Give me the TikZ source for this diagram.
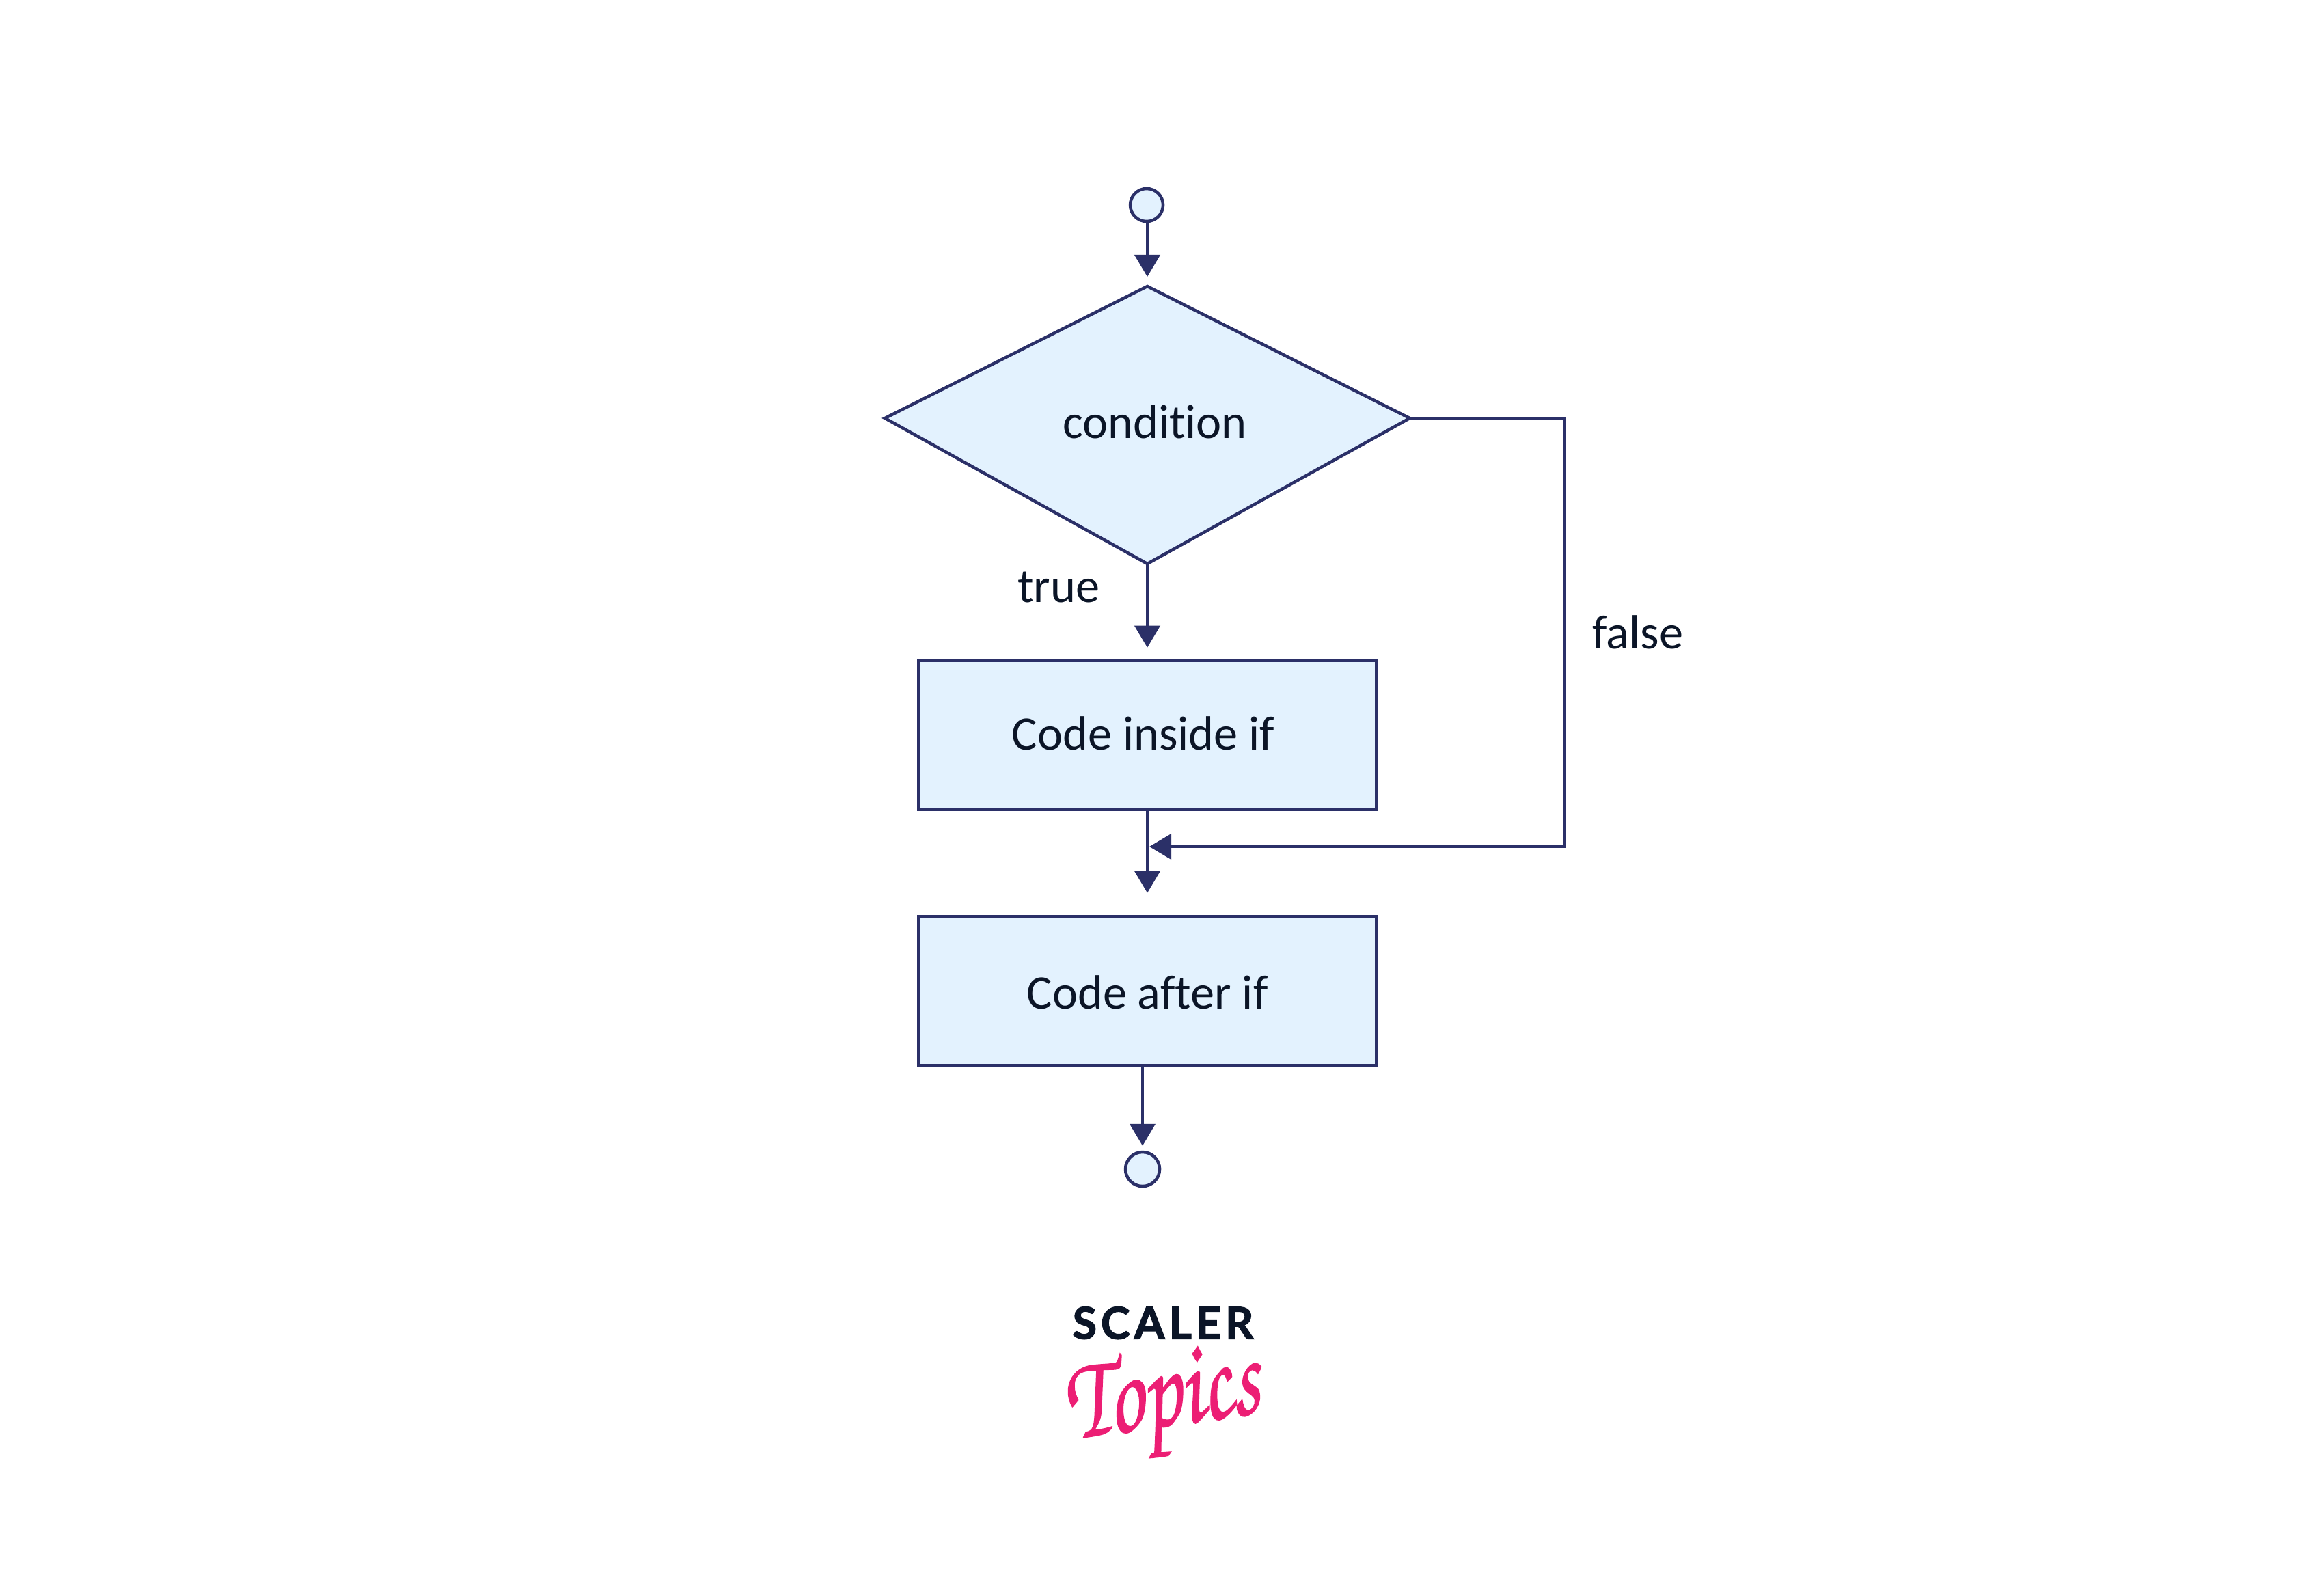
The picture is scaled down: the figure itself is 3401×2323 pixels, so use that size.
\documentclass[tikz,border=0pt]{standalone}
\usepackage{fontspec}
\setmainfont[Ligatures=NoCommon]{Carlito}
\newfontfamily\logofont[LetterSpace=9]{Lato}
\usetikzlibrary{arrows.meta}
\definecolor{edgeblue}{HTML}{2B3068}
\definecolor{fillblue}{HTML}{E3F2FE}
\definecolor{inkdark}{HTML}{0B1527}
\definecolor{logopink}{HTML}{EC1E74}
\newcommand{\heavytext}[3]{\special{pdf:code q 2 Tr #1 w #2 RG}#3\special{pdf:code Q}}
\tikzset{
  shapebox/.style={draw=edgeblue,fill=fillblue,line width=0.045cm,text=inkdark,font=\fontsize{20}{24}\selectfont},
  endpoint/.style={shapebox,circle,inner sep=0pt},
  flowbox/.style={shapebox,rectangle,minimum width=6.7cm,minimum height=2.18cm,inner sep=0pt},
  flowlabel/.style={text=inkdark,font=\fontsize{20}{24}\selectfont,inner sep=0pt},
  flow/.style={draw=edgeblue,line width=0.04cm,-{Triangle[length=0.32cm,width=0.37cm]}},
}
\begin{document}
\begin{tikzpicture}[x=0.01cm,y=-0.01cm]
  \useasboundingbox (0,0) rectangle (3401,2323);
  \coordinate (top) at (1679,419);
  \coordinate (right) at (2063,612);
  \coordinate (bottom) at (1679,825);
  \coordinate (left) at (1295,612);
  \coordinate (bend1) at (2289,612);
  \coordinate (bend2) at (2289,1239);
  \coordinate (merge) at (1682,1239);
  \draw[shapebox] (top) -- (right) -- (bottom) -- (left) -- cycle;
  \draw
    (1678,300) node[endpoint,minimum size=0.48cm] (start){}
    (1690,617) node[flowlabel] (cond){condition}
    (1679,1076) node[flowbox] (inside){\hspace*{-0.12cm}\raisebox{-0.21cm}[0.3cm][0.3cm]{Code inside if}}
    (1679,1450) node[flowbox] (after){\raisebox{-0.26cm}[0.3cm][0.3cm]{Code after if}}
    (1672,1711) node[endpoint,minimum size=0.5cm] (stop){}
    (1549,859) node[flowlabel] (true){true}
    (2397,925) node[flowlabel] (false){false}
    (1702,1936) node[inner sep=0pt,text=inkdark,font=\logofont\bfseries\fontsize{18.4}{20}\selectfont] (scaler){\heavytext{0.35}{0.043 0.082 0.153}{SCALER}}
    (1702,2056) node[inner sep=0pt,text=logopink,rotate=8,xscale=0.73,font=\fontencoding{T1}\fontfamily{pzc}\fontshape{it}\fontsize{50}{54}\selectfont] (topics){\heavytext{0.5}{0.925 0.118 0.455}{Topics}};
  \begin{scope}[flow]
    \draw[shorten >=0.14cm] (top |- start.south) to (top);
    \draw[shorten >=0.17cm] (bottom) to (inside);
    \draw[shorten >=0.32cm] (inside) to (after);
    \draw[shorten >=0.07cm] (stop |- after.south) to (stop);
    \draw (right) -- (bend1) -- (bend2) -- (merge);
  \end{scope}
\end{tikzpicture}
\end{document}
